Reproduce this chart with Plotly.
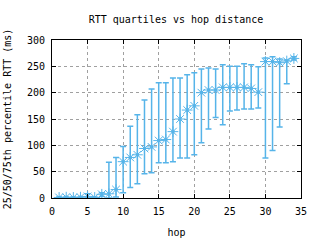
import plotly.graph_objects as go

hops = list(range(1, 35))
median = [1, 1.5, 1, 1.5, 3, 1, 7, 8, 16, 69, 77, 82, 94, 97, 109, 111, 126, 150, 167, 175,
          200, 205, 205, 210, 210, 210, 210, 208, 201, 259, 259, 257, 260, 265]
q25 = [0, 0, 0, 0, 0, 0, 3, 0, 2, 10, 20, 27, 46, 48, 67, 67, 69, 76, 76, 82,
       105, 131, 153, 139, 165, 167, 169, 169, 171, 76, 90, 135, 217, 262]
q75 = [2, 2, 2, 2, 8, 2, 10, 68, 77, 98, 136, 158, 186, 207, 219, 219, 228, 228, 234, 238,
       245, 247, 245, 253, 250, 250, 255, 253, 249, 266, 268, 264, 262, 268]

x_ticks = [0, 5, 10, 15, 20, 25, 30, 35]
y_ticks = [0, 50, 100, 150, 200, 250, 300]

color = "#56b4e9"
font = dict(family="DejaVu Sans Mono", size=10, color="black")

err_plus = [h - m for h, m in zip(q75, median)]
err_minus = [m - l for m, l in zip(median, q25)]

fig = go.Figure()
fig.add_trace(go.Scatter(
    x=hops, y=median, mode="markers",
    marker=dict(symbol="asterisk-open", size=9, color=color, line=dict(color=color, width=1)),
    error_y=dict(type="data", symmetric=False, array=err_plus, arrayminus=err_minus,
                 color=color, thickness=1.5, width=3),
    showlegend=False,
))
fig.add_trace(go.Scatter(
    x=hops, y=median, mode="markers",
    marker=dict(symbol="square", size=3, color=color),
    showlegend=False,
))

axis_common = dict(
    showline=True, mirror="ticks", linecolor="black", linewidth=1,
    ticks="inside", ticklen=4, tickcolor="black",
    showgrid=True, gridcolor="#a0a0a0", griddash="3px,3px", gridwidth=1,
    zeroline=False, tickfont=font, automargin=False,
)

fig.update_layout(
    width=320, height=240,
    margin=dict(l=52, r=19, t=40, b=42),
    paper_bgcolor="white", plot_bgcolor="white",
    title=dict(text="RTT quartiles vs hop distance", x=0.55, xanchor="center",
               y=0.918, yanchor="middle", font=font),
    xaxis=dict(range=[0, 35], tickvals=x_ticks, ticklabelstandoff=4,
               title=dict(text="hop", font=font, standoff=12),
               **axis_common),
    yaxis=dict(range=[0, 300], tickvals=y_ticks, ticklabelstandoff=4,
               title=dict(text="25/50/75th percentile RTT (ms)", font=font, standoff=13),
               **axis_common),
)

fig.write_html("out.html")
